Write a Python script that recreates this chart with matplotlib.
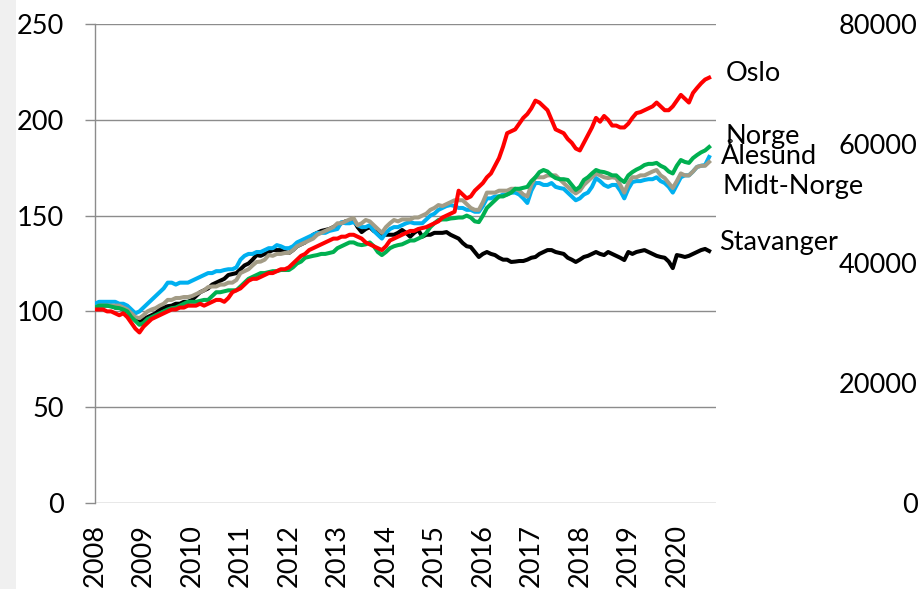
import matplotlib
matplotlib.use("Agg")
import matplotlib.pyplot as plt
from matplotlib.patches import Rectangle

plt.rcParams['font.family'] = ['Lato', 'DejaVu Sans']

years = ["2008", "2009", "2010", "2011", "2012", "2013", "2014",
         "2015", "2016", "2017", "2018", "2019", "2020"]

oslo = [101, 101, 101, 100, 100, 99, 98, 99, 97, 94, 91, 89,
        92, 94, 96, 97, 98, 99, 100, 101, 101, 102, 102, 103,
        103, 103, 104, 103, 104, 105, 106, 106, 105, 107, 110, 111,
        112, 114, 116, 117, 117, 118, 119, 120, 120, 121, 122, 122,
        123, 125, 127, 129, 130, 132, 133, 134, 135, 136, 137, 138,
        138, 139, 139, 140, 140, 139, 138, 136, 135, 134, 133, 132,
        134, 137, 138, 139, 140, 141, 142, 142, 143, 143.5, 144, 145,
        146, 147, 149, 150, 151, 152, 163, 161, 159, 160, 163, 165,
        167, 170, 172, 176, 180, 186, 193, 194, 195, 198, 201, 203,
        206, 210, 209, 207, 205, 200, 195, 194, 193, 190, 188, 185,
        184, 188, 192, 196, 201, 199, 202, 200, 197, 197, 196, 196,
        198, 201, 203.5, 204, 205, 206, 207, 209, 207, 205, 205, 207,
        210, 213, 211, 209, 214, 216.6, 219, 221, 222]

alesund = [104, 105, 105, 105, 105, 105, 104, 104, 103, 101, 99, 100,
           102, 104, 106, 108, 110, 112, 115, 115, 114, 115, 115, 115,
           116, 117, 118, 119, 120, 120, 121, 121, 121.6, 122, 122, 123,
           127, 129, 130, 130, 131, 131, 132, 133, 133, 134.6, 134, 133,
           133, 134, 136, 137, 138, 139, 140, 141, 141, 141, 142, 142.5,
           143, 146.6, 146, 146, 146.6, 145, 144, 144, 145, 142, 140, 138,
           141, 143, 144, 144, 145, 146, 146.6, 146, 146, 146, 148, 150,
           151, 153, 154, 155, 155.5, 155, 154, 154, 153, 153, 152, 152,
           155, 159, 159, 160, 160, 161, 161, 162, 162, 161, 159, 156.6,
           163, 167, 167, 166, 166, 167, 165, 164.4, 164, 162, 160, 158,
           159, 161, 162, 165, 169.6, 168, 166, 165, 166, 166, 163, 159,
           164, 167.5, 168, 168, 168.6, 169, 169, 170, 168, 167, 165, 162,
           166, 170, 171, 171, 173, 175.4, 176, 176.4, 180.6]

midt_norge = [102, 103, 103, 103, 103, 103, 103, 102, 101, 99, 97, 96.5,
              98, 100, 101, 101.7, 103, 104, 106, 106, 107, 107, 107.5, 107.5,
              108, 109, 110, 111, 112.7, 113, 113, 114, 114, 115, 115, 116.4,
              120, 121, 122, 124, 125.8, 126, 127, 129.4, 129, 130, 130, 130.5,
              130.5, 132, 134, 135, 136, 137, 138, 140, 141, 142, 143, 144,
              146, 146, 147, 148, 148.7, 145, 146, 147.7, 147, 145, 143, 141,
              144, 146, 147.7, 147, 148, 148, 148, 149, 149, 150, 151, 153,
              154, 155.5, 155, 156, 157, 158, 158, 158, 156, 154, 153, 153,
              157, 162, 162, 162, 163, 163, 163, 164, 164, 163, 161, 160,
              166, 170, 170, 170, 171, 171, 171, 169, 167, 165, 163, 161.6,
              163, 166, 168, 170, 172, 171, 170, 169.6, 170, 169.6, 166, 162,
              167, 170, 170, 171, 171, 172, 173, 173.8, 171, 169.6, 167, 164.4,
              168, 172, 171, 171, 173, 175.4, 176, 176, 178]

norge = [102, 103, 103, 103, 102.5, 102, 101.7, 101, 100, 97, 95, 93,
         94, 96, 97, 98, 99, 100, 101, 101.7, 102, 103, 104, 105,
         105, 105, 105.5, 106, 106, 108, 110, 110, 110.5, 111, 111, 111,
         113, 115, 117, 118, 119, 120, 120, 120.5, 121, 121, 121.6, 121.6,
         121.6, 123, 125, 126, 128, 128.5, 129, 129.4, 130, 130, 130.5, 131,
         133, 134, 135, 136, 136, 135, 134.6, 135, 136, 134, 131, 129.4,
         131, 133, 134, 134.6, 135, 136, 137, 137, 138, 139, 141, 144,
         146, 147.7, 148, 148, 148.5, 148.7, 149, 149, 150, 149, 147, 146.6,
         150, 154, 156, 158, 160, 160, 161, 162, 164, 164, 164.5, 165,
         168, 170, 172.7, 173.8, 173, 171, 169.6, 169, 169, 168.6, 166, 163.4,
         165, 168.6, 170, 172, 173.8, 173, 172.7, 172, 171, 171, 169, 167.5,
         171, 172.7, 174, 175, 176.4, 177, 177, 177.5, 176, 175, 173, 172,
         176, 179, 178, 177.5, 180, 181.6, 183, 184, 185.8]

stavanger = [102, 103, 103, 103, 103, 102, 102, 101, 100, 98, 96, 94,
             96, 97, 98, 99, 101, 102, 102.7, 103, 104, 104, 105, 105,
             106, 108, 110, 111, 112, 114, 115, 116, 117, 119, 119.5, 120,
             122, 124, 125, 127, 129.4, 129, 130, 131, 132, 132, 132, 131,
             130.5, 132, 134, 135, 136, 138, 140, 141, 142, 142.5, 143, 144,
             145, 146, 147, 147, 147.7, 144, 141.4, 143, 144, 142, 141, 140,
             140, 140, 140, 141, 142.5, 141, 139, 141, 142.5, 139, 140, 140,
             141, 141, 141, 141.4, 140, 139, 138, 135.7, 134, 133.6, 131, 128.4,
             130, 131, 130, 129.4, 128, 127, 127, 125.8, 126, 126.3, 126.3, 127,
             128, 128.4, 130, 131, 132, 132, 131, 130.5, 130, 128, 127, 125.8,
             127, 128.4, 129, 130, 131, 130, 129.4, 131, 130, 129, 128, 126.8,
             131, 130, 131, 131.5, 132, 131, 130, 129, 128.4, 128, 126, 122.6,
             129.4, 129, 128.4, 129, 130, 131, 132, 132.6, 131.5]

left_ticks = [0, 50, 100, 150, 200, 250]
right_ticks = [0, 20000, 40000, 60000, 80000]

fig = plt.figure(figsize=(9.23, 5.89), dpi=100)
fig.patches.append(Rectangle((0, 0), 16 / 923, 1, transform=fig.transFigure,
                             facecolor="#F0F0F0", edgecolor="none", zorder=0))

ax = fig.add_axes([95 / 923, 1 - 503 / 589, 621 / 923, 479 / 589])
x = list(range(len(oslo)))

lw = 2.9
series = [
    (stavanger, "#000000", 2),
    (alesund, "#00B0F0", 3),
    (midt_norge, "#A39C86", 4),
    (norge, "#00B050", 5),
    (oslo, "#FF0000", 6),
]
for vals, col, z in series:
    ax.plot(x, vals, color=col, lw=lw, zorder=z, solid_joinstyle="round")

ax.set_xlim(0, 153.7)
ax.set_ylim(0, 250)
ax.set_yticks(left_ticks)
ax.set_yticklabels([str(t) for t in left_ticks])
ax.set_xticks([i * 12 for i in range(len(years))])
ax.set_xticklabels(years, rotation=90, va="top", ha="center")

ax.grid(axis="y", color="#8C8C8C", lw=1.0)
ax.set_axisbelow(True)
for s in ["top", "right", "bottom"]:
    ax.spines[s].set_visible(False)
ax.spines["left"].set_color("#8C8C8C")
ax.spines["left"].set_linewidth(1.0)
ax.tick_params(axis="y", length=7.5, width=1.0, color="#8C8C8C",
               labelsize=19.5, pad=15)
ax.tick_params(axis="x", length=0, labelsize=19.5, pad=15)

ax2 = ax.twinx()
ax2.set_ylim(0, 80000)
ax2.set_yticks(right_ticks)
ax2.set_yticklabels([str(t) for t in right_ticks], ha="right")
for s in ["top", "right", "bottom", "left"]:
    ax2.spines[s].set_visible(False)
ax2.tick_params(axis="y", length=0, labelsize=19.5, pad=145)

labels = [
    ("Oslo", 156.2, 224.4),
    ("Norge", 156.0, 191.5),
    ("Ålesund", 155.0, 180.6),
    ("Midt-Norge", 155.2, 165.4),
    ("Stavanger", 154.4, 135.7),
]
for txt, lx, ly in labels:
    ax.text(lx, ly, txt, fontsize=19.5, ha="left", va="center",
            clip_on=False, zorder=10)

fig.savefig("out.png", dpi=100)
